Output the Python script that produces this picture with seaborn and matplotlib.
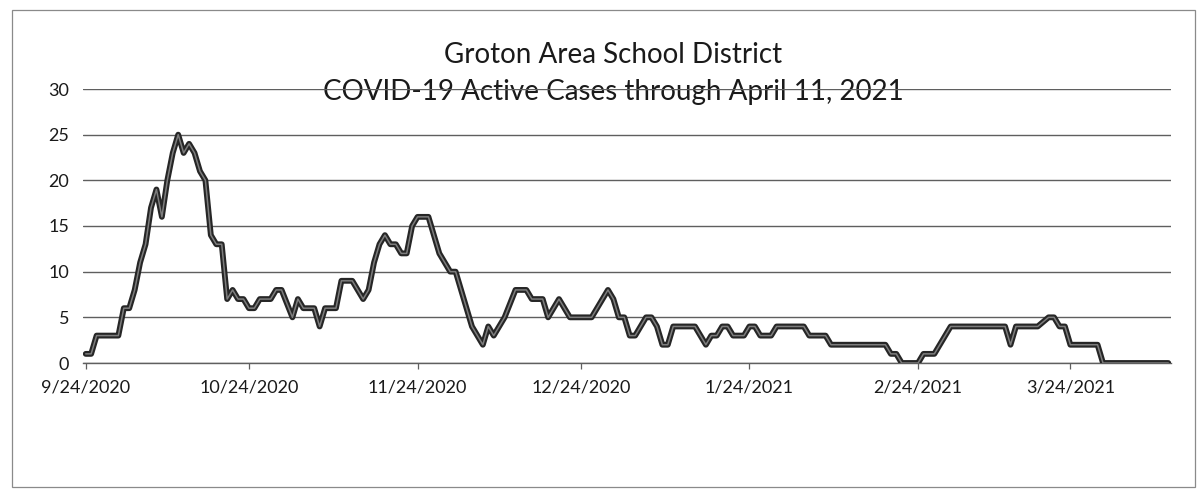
import pandas as pd
import matplotlib
matplotlib.use("Agg")
import matplotlib.pyplot as plt
import seaborn as sns
from matplotlib.patches import Rectangle

# values (day offset from 9/24/2020, active cases)
start_date = "2020-09-24"
day_offset = [0, 1, 2, 6, 7, 8, 9, 10, 11, 12, 13, 14, 15, 16, 17, 18, 19, 20,
              21, 22, 23, 24, 25, 26, 27, 28, 29, 30, 31, 32, 34, 35, 36, 38,
              39, 40, 42, 43, 44, 46, 47, 48, 49, 51, 52, 53, 54, 55, 56, 57,
              58, 59, 60, 61, 63, 64, 65, 66, 67, 68, 69, 70, 71, 72, 73, 74,
              75, 77, 79, 81, 82, 84, 85, 87, 89, 93, 95, 96, 97, 98, 99, 100,
              101, 103, 104, 105, 106, 107, 108, 112, 113, 114, 115, 116, 117,
              118, 119, 121, 122, 123, 124, 126, 127, 132, 133, 136, 137, 147,
              148, 149, 150, 153, 154, 156, 157, 159, 169, 170, 171, 175, 177,
              178, 179, 180, 181, 186, 187, 199]
active_cases = [1, 1, 3, 3, 6, 6, 8, 11, 13, 17, 19, 16, 20, 23, 25, 23, 24, 23,
                21, 20, 14, 13, 13, 7, 8, 7, 7, 6, 6, 7, 7, 8, 8, 5,
                7, 6, 6, 4, 6, 6, 9, 9, 9, 7, 8, 11, 13, 14, 13, 13,
                12, 12, 15, 16, 16, 14, 12, 11, 10, 10, 8, 6, 4, 3, 2, 4,
                3, 5, 8, 8, 7, 7, 5, 7, 5, 5, 7, 8, 7, 5, 5, 3,
                3, 5, 5, 4, 2, 2, 4, 4, 3, 2, 3, 3, 4,
                4, 3, 3, 4, 4, 3, 3, 4, 4, 3, 3, 2, 2,
                1, 1, 0, 0, 1, 1, 2, 4, 4, 2, 4, 4, 5,
                5, 4, 4, 2, 2, 0, 0]

tick_dates = ["2020-09-24", "2020-10-24", "2020-11-24", "2020-12-24",
              "2021-01-24", "2021-02-24", "2021-03-24"]
tick_labels = ["9/24/2020", "10/24/2020", "11/24/2020", "12/24/2020",
               "1/24/2021", "2/24/2021", "3/24/2021"]
y_ticks = [0, 5, 10, 15, 20, 25, 30]

title_line1 = "Groton Area School District"
title_line2 = "COVID-19 Active Cases through April 11, 2021"


def main():
    sns.set_theme(style="white")
    plt.rcParams["font.family"] = ["Lato", "DejaVu Sans"]

    df = pd.DataFrame({
        "date": pd.Timestamp(start_date) + pd.to_timedelta(day_offset, unit="D"),
        "cases": active_cases,
    })

    W, H = 1202, 496
    fig = plt.figure(figsize=(W / 100, H / 100), dpi=100)
    fig.patch.set_facecolor("white")

    # plot area in pixels: left 83, right 1171, top 89, bottom 363
    ax = fig.add_axes([83 / W, (H - 363) / H, (1171 - 83) / W, (363 - 89) / H])
    ax.set_facecolor("white")

    sns.lineplot(data=df, x="date", y="cases", ax=ax, color="#262626",
                 linewidth=4.2, zorder=3)
    sns.lineplot(data=df, x="date", y="cases", ax=ax, color="#7d7d7d",
                 linewidth=1.1, zorder=4)

    ax.set_xlim(df["date"].min() - pd.Timedelta(hours=12),
                df["date"].max() + pd.Timedelta(hours=12))
    ax.set_ylim(0, 30)
    ax.set_yticks(y_ticks)
    ax.set_yticklabels([str(v) for v in y_ticks])
    ax.set_xticks(pd.to_datetime(tick_dates))
    ax.set_xticklabels(tick_labels)
    ax.set_xlabel("")
    ax.set_ylabel("")

    ax.yaxis.grid(True, color="#5f5f5f", linewidth=1.0)
    ax.xaxis.grid(False)
    for side in ["top", "right", "left"]:
        ax.spines[side].set_visible(False)
    ax.spines["bottom"].set_color("#5f5f5f")
    ax.spines["bottom"].set_linewidth(1.0)

    ax.tick_params(axis="y", length=0, pad=10, labelsize=13, labelcolor="#1a1a1a")
    ax.tick_params(axis="x", length=4, width=0.9, color="#5f5f5f", pad=8,
                   labelsize=13, labelcolor="#1a1a1a", direction="out")
    ax.xaxis.set_ticks_position("bottom")

    # title sits under the gridlines, like the scan where the 30 line crosses it
    tx = (613 - 83) / (1171 - 83)
    ax.text(tx, 1 + 26 / 274, title_line1, transform=ax.transAxes, ha="center",
            va="baseline", fontsize=20, color="#1a1a1a", zorder=0.3, clip_on=False)
    ax.text(tx, 1 - 11 / 274, title_line2, transform=ax.transAxes, ha="center",
            va="baseline", fontsize=20, color="#1a1a1a", zorder=0.3, clip_on=False)

    # chart frame
    fig.patches.append(Rectangle((12 / W, (H - 487) / H), (1195 - 12) / W,
                                 (487 - 10) / H, transform=fig.transFigure,
                                 fill=False, edgecolor="#8a8a8a", linewidth=0.9))

    fig.savefig("out.png", dpi=100, facecolor="white")


if __name__ == "__main__":
    main()
